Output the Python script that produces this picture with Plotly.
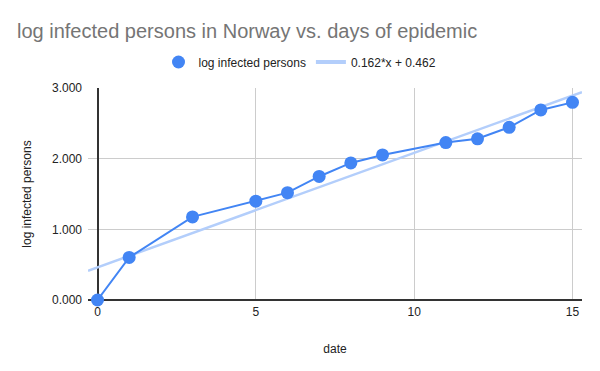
import plotly.graph_objects as go

days = [0, 1, 3, 5, 6, 7, 8, 9, 11, 12, 13, 14, 15]
log_infected = [0.0, 0.602, 1.176, 1.398, 1.519, 1.748, 1.940, 2.053, 2.228, 2.281, 2.444, 2.690, 2.797]
trend_slope = 0.162
trend_intercept = 0.462
x_range = [-0.3, 15.3]

trend_x = x_range
trend_y = [trend_slope * x + trend_intercept for x in trend_x]

font_family = "Arial, Liberation Sans, sans-serif"
blue = "#4285f4"
trend_color = "#b3cefb"

fig = go.Figure()
fig.add_trace(go.Scatter(
    x=trend_x, y=trend_y, mode="lines",
    line=dict(color=trend_color, width=2.5),
    showlegend=False, hoverinfo="skip"))
fig.add_trace(go.Scatter(
    x=days, y=log_infected, mode="lines",
    line=dict(color=blue, width=2), showlegend=False, hoverinfo="skip"))
fig.add_trace(go.Scatter(
    x=days, y=log_infected, mode="markers",
    marker=dict(color=blue, size=13),
    name="log infected persons", cliponaxis=False))
fig.add_trace(go.Scatter(
    x=[None], y=[None], mode="lines",
    line=dict(color=trend_color, width=4),
    name=f"{trend_slope}*x + {trend_intercept}"))

fig.update_layout(
    width=600, height=371,
    paper_bgcolor="white", plot_bgcolor="white",
    margin=dict(l=88, r=18, t=88, b=71, autoexpand=False),
    font=dict(family=font_family, size=12, color="#222222"),
    title=dict(text="log infected persons in Norway vs. days of epidemic",
               x=17/600, xanchor="left", xref="container",
               y=1 - 31/371, yanchor="middle", yref="container",
               font=dict(size=20, color="#757575", family=font_family)),
    legend=dict(orientation="h", xref="container", x=0.5, xanchor="center",
                y=1 + (88 - 62) / 212, yanchor="middle",
                font=dict(size=12, color="#222222"), itemwidth=30),
    xaxis=dict(range=x_range, tickvals=[0, 5, 10, 15], showgrid=True, automargin=False,
               gridcolor="#cccccc", gridwidth=1, zeroline=True,
               zerolinecolor="#333333", zerolinewidth=1.5, showline=False,
               ticks="", ticklabelstandoff=3, tickfont=dict(size=12, color="#222222"),
               title=dict(text="date", font=dict(size=12, color="#222222"), standoff=26)),
    yaxis=dict(range=[0, 3], tickvals=[0, 1, 2, 3], tickformat=".3f", automargin=False,
               showgrid=True, gridcolor="#cccccc", gridwidth=1,
               zeroline=True, zerolinecolor="#333333", zerolinewidth=1.5,
               showline=False, ticks="", ticklabelstandoff=5, tickfont=dict(size=12, color="#222222"),
               title=dict(text="log infected persons", font=dict(size=12, color="#222222"), standoff=17)),
)

fig.write_html("out.html", config={"displayModeBar": False},
               post_script="document.body.style.margin='0';")
